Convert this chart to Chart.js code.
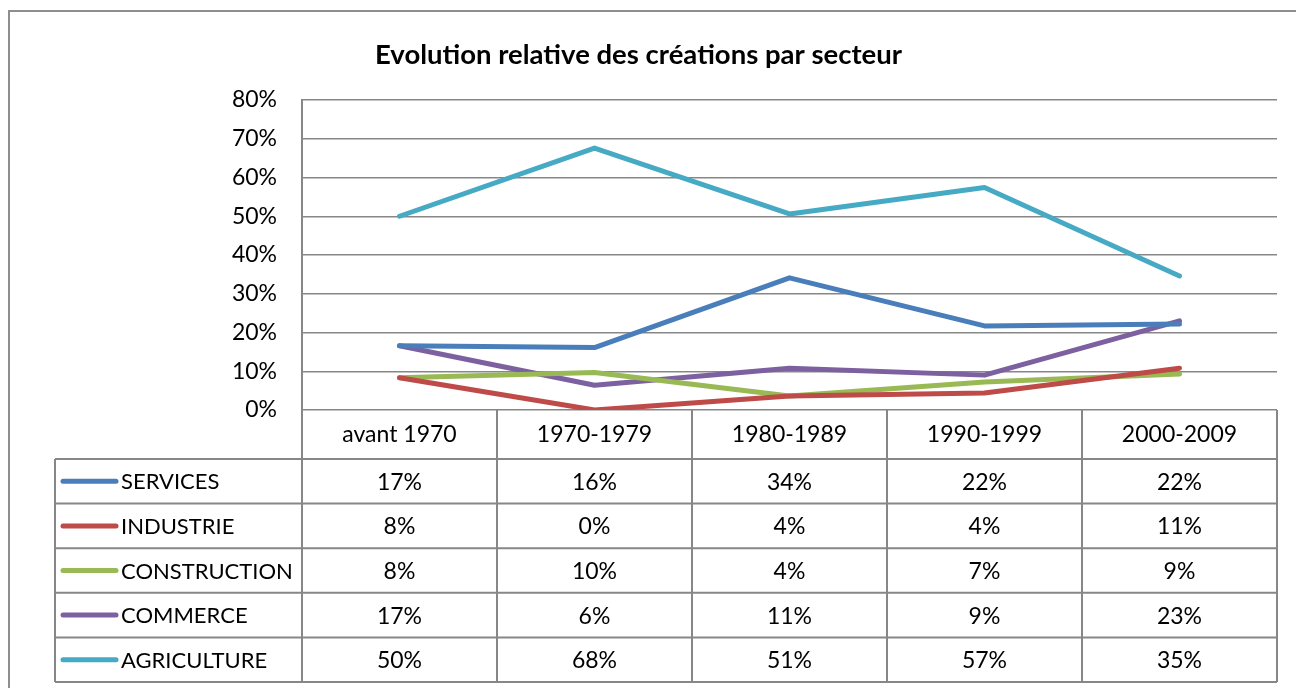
<!DOCTYPE html>
<html>
<head>
<meta charset="utf-8">
<script src="https://cdn.jsdelivr.net/npm/chart.js@4"></script>
<style>
  html, body { margin: 0; padding: 0; background: #ffffff; }
  #wrap { width: 1296px; height: 688px; position: relative; }
</style>
</head>
<body>
<div id="wrap"><canvas id="c" width="1296" height="688"></canvas></div>
<script>
// ---- data ----
const categories = ['avant 1970', '1970-1979', '1980-1989', '1990-1999', '2000-2009'];
const seriesNames = ['SERVICES', 'INDUSTRIE', 'CONSTRUCTION', 'COMMERCE', 'AGRICULTURE'];
const services     = [0.166, 0.161, 0.341, 0.217, 0.222];
const industrie    = [0.083, 0.000, 0.036, 0.044, 0.108];
const construction = [0.083, 0.097, 0.036, 0.072, 0.093];
const commerce     = [0.166, 0.064, 0.108, 0.090, 0.230];
const agriculture  = [0.500, 0.676, 0.506, 0.574, 0.346];
const yTicks = [0, 0.1, 0.2, 0.3, 0.4, 0.5, 0.6, 0.7, 0.8];
const chartTitle = 'Evolution relative des créations par secteur';

// ---- styles ----
const seriesValues = [services, industrie, construction, commerce, agriculture];
const seriesColors = ['#4A7EBB', '#BE4B48', '#98B954', '#7D60A0', '#46AAC5'];
const gridColor = '#878787';
const FONT = 'Lato, "Open Sans", sans-serif';
const pct = v => Math.round(v * 100) + '%';

const HEADER_H = 49;
const ROW_H = 44.6;
const LEGEND_LEFT = 55;

const tablePlugin = {
  id: 'dataTable',
  beforeDraw(chart) {
    const ctx = chart.ctx;
    ctx.save();
    ctx.strokeStyle = '#8e8e8e';
    ctx.lineWidth = 2;
    ctx.beginPath();
    ctx.moveTo(9, 688);
    ctx.lineTo(9, 11);
    ctx.lineTo(1296, 11);
    ctx.stroke();
    ctx.restore();
  },
  afterDraw(chart) {
    const ctx = chart.ctx;
    const xs = chart.scales.x;
    const area = chart.chartArea;
    const n = categories.length;
    const centers = categories.map((c, i) => xs.getPixelForValue(i));
    const bounds = [area.left];
    for (let i = 0; i < n - 1; i++) bounds.push((centers[i] + centers[i + 1]) / 2);
    bounds.push(area.right);

    const top = area.bottom;
    const rowsTop = top + HEADER_H;
    const bottom = rowsTop + ROW_H * seriesNames.length;

    ctx.save();
    ctx.strokeStyle = gridColor;
    ctx.lineWidth = 2;
    ctx.beginPath();
    bounds.forEach(b => { ctx.moveTo(b, top); ctx.lineTo(b, bottom); });
    ctx.moveTo(LEGEND_LEFT, rowsTop); ctx.lineTo(LEGEND_LEFT, bottom);
    for (let r = 0; r <= seriesNames.length; r++) {
      const y = rowsTop + r * ROW_H;
      ctx.moveTo(LEGEND_LEFT, y); ctx.lineTo(area.right, y);
    }
    ctx.stroke();

    ctx.textBaseline = 'middle';
    seriesNames.forEach((name, r) => {
      const cy = rowsTop + r * ROW_H + ROW_H / 2;
      ctx.strokeStyle = seriesColors[r];
      ctx.lineWidth = 5;
      ctx.lineCap = 'round';
      ctx.beginPath();
      ctx.moveTo(63, cy); ctx.lineTo(116, cy);
      ctx.stroke();
      ctx.fillStyle = '#000';
      ctx.font = '22px ' + FONT;
      ctx.textAlign = 'left';
      ctx.fillText(name, 121, cy + 1);
      ctx.font = '23px ' + FONT;
      ctx.textAlign = 'center';
      seriesValues[r].forEach((v, i) => ctx.fillText(pct(v), centers[i], cy + 1));
    });
    ctx.restore();
  }
};

new Chart(document.getElementById('c'), {
  type: 'line',
  data: {
    labels: categories,
    datasets: seriesNames.map((name, i) => ({
      label: name,
      data: seriesValues[i],
      borderColor: seriesColors[i],
      backgroundColor: seriesColors[i],
      borderWidth: 5,
      borderCapStyle: 'round',
      borderJoinStyle: 'round',
      pointRadius: 0,
      tension: 0,
      fill: false
    }))
  },
  options: {
    responsive: false,
    animation: false,
    layout: { padding: { left: 0, right: 19, top: 0, bottom: 0 } },
    plugins: {
      legend: { display: false },
      tooltip: { enabled: false },
      title: {
        display: true,
        text: chartTitle,
        color: '#000',
        font: { family: FONT, size: 27.5, weight: 'bold', lineHeight: 1.2 },
        padding: { top: 38.5, bottom: 28.5 }
      }
    },
    scales: {
      x: {
        type: 'category',
        offset: true,
        grid: { display: false, drawTicks: false },
        border: { display: false },
        ticks: {
          color: '#000',
          font: { family: FONT, size: 23, lineHeight: 1.2 },
          padding: 11,
          maxRotation: 0,
          autoSkip: false
        },
        afterFit(scale) { scale.height = 278; }
      },
      y: {
        min: 0,
        max: 0.8,
        afterBuildTicks(scale) { scale.ticks = yTicks.map(v => ({ value: v })); },
        grid: { color: gridColor, lineWidth: 1.5, drawTicks: false },
        border: { display: true, color: gridColor, width: 2 },
        ticks: {
          color: '#000',
          font: { family: FONT, size: 23 },
          padding: 25,
          callback: v => pct(v)
        },
        afterFit(scale) { scale.width = 302; }
      }
    }
  },
  plugins: [tablePlugin]
});
</script>
</body>
</html>
